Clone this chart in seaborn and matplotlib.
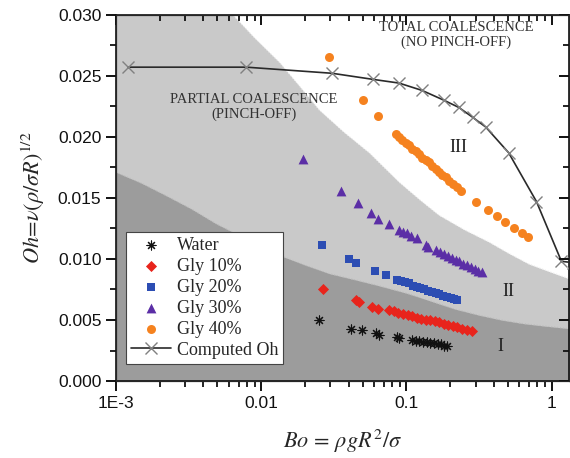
import numpy as np
import pandas as pd
import matplotlib
matplotlib.use("Agg")
import matplotlib.pyplot as plt
import seaborn as sns
from matplotlib.ticker import NullFormatter, MultipleLocator, FixedLocator, FixedFormatter, LogLocator

# data
water_x = [0.0251, 0.0417, 0.0495, 0.0620, 0.0650, 0.0860, 0.0890, 0.109, 0.116, 0.123,
           0.130, 0.138, 0.146, 0.155, 0.164, 0.174, 0.181, 0.190]
water_y = [0.0050, 0.0043, 0.0042, 0.0039, 0.0038, 0.0036, 0.0035, 0.0034, 0.0033, 0.0033,
           0.0032, 0.0032, 0.0031, 0.0031, 0.0030, 0.0030, 0.0029, 0.0029]

gly10_x = [0.0268, 0.0451, 0.0473, 0.0581, 0.0638, 0.076, 0.082, 0.088, 0.095, 0.102, 0.110,
           0.118, 0.127, 0.136, 0.146, 0.157, 0.169, 0.181, 0.195, 0.209, 0.225, 0.242, 0.261, 0.282]
gly10_y = [0.0075, 0.0066, 0.0065, 0.0061, 0.0059, 0.0058, 0.0057, 0.0056, 0.0055, 0.0054, 0.0053,
           0.0052, 0.0051, 0.0050, 0.0050, 0.0049, 0.0048, 0.0047, 0.0046, 0.0045, 0.0044, 0.0043, 0.0042, 0.0041]

gly20_x = [0.0264, 0.0403, 0.0451, 0.0610, 0.0724, 0.0863, 0.092, 0.098, 0.104, 0.111, 0.118,
           0.125, 0.133, 0.141, 0.150, 0.159, 0.169, 0.179, 0.190, 0.202, 0.212, 0.222]
gly20_y = [0.0111, 0.0100, 0.0097, 0.0090, 0.0087, 0.0083, 0.0082, 0.0081, 0.0080, 0.0078, 0.0077,
           0.0076, 0.0075, 0.0074, 0.0073, 0.0072, 0.0071, 0.0070, 0.0069, 0.0068, 0.0067, 0.0066]

gly30_x = [0.0195, 0.0356, 0.0466, 0.0571, 0.0638, 0.0760, 0.0889, 0.095, 0.101, 0.108, 0.118,
           0.136, 0.142, 0.160, 0.170, 0.181, 0.193, 0.205, 0.218, 0.232, 0.247, 0.262, 0.278,
           0.295, 0.312, 0.330]
gly30_y = [0.0182, 0.0156, 0.0146, 0.0138, 0.0133, 0.0129, 0.0124, 0.0122, 0.0121, 0.0119, 0.0117,
           0.0111, 0.0110, 0.0107, 0.0106, 0.0104, 0.0102, 0.0101, 0.0099, 0.0098, 0.0096, 0.0095,
           0.0093, 0.0092, 0.0090, 0.0089]

gly40_x = [0.0294, 0.0504, 0.0638, 0.0849, 0.089, 0.094, 0.099, 0.104, 0.110, 0.116, 0.122,
           0.129, 0.136, 0.143, 0.151, 0.159, 0.168, 0.177, 0.187, 0.198, 0.210, 0.223, 0.237,
           0.301, 0.363, 0.419, 0.475, 0.548, 0.621, 0.684]
gly40_y = [0.0265, 0.0230, 0.0217, 0.0202, 0.0200, 0.0197, 0.0195, 0.0193, 0.0190, 0.0188, 0.0186,
           0.0183, 0.0181, 0.0179, 0.0176, 0.0174, 0.0171, 0.0169, 0.0167, 0.0164, 0.0161, 0.0159, 0.0156,
           0.0147, 0.0140, 0.0135, 0.0130, 0.0125, 0.0121, 0.0118]

oh_x = [0.00121, 0.00792, 0.0308, 0.0590, 0.0889, 0.128, 0.181, 0.230, 0.286, 0.352, 0.506, 0.787, 1.17, 1.40]
oh_y = [0.0257, 0.0257, 0.0252, 0.0247, 0.0244, 0.0238, 0.0230, 0.0224, 0.0216, 0.0208, 0.0187, 0.0147, 0.0098, 0.0097]

# regime boundaries (I / II and II / III)
bnd1_x = [0.001, 0.0015, 0.0022, 0.0033, 0.00486, 0.0080, 0.01336, 0.0200, 0.0294, 0.0440,
          0.0649, 0.100, 0.143, 0.215, 0.315, 0.450, 0.641, 0.900, 1.31]
bnd1_y = [0.0171, 0.0162, 0.0152, 0.0141, 0.0129, 0.0116, 0.0103, 0.0095, 0.0088, 0.0083,
          0.0078, 0.0072, 0.0066, 0.0059, 0.0054, 0.0050, 0.0047, 0.0045, 0.0043]
bnd2_x = [0.001, 0.0058, 0.00625, 0.0090, 0.01336, 0.0185, 0.0251, 0.0370, 0.0554, 0.0889,
          0.125, 0.167, 0.250, 0.369, 0.500, 0.694, 1.00, 1.31]
bnd2_y = [0.032, 0.032, 0.0301, 0.0281, 0.0261, 0.0241, 0.0222, 0.0204, 0.0187, 0.0163,
          0.0148, 0.0136, 0.0124, 0.0114, 0.0105, 0.0096, 0.0089, 0.0084]

sns.set_style("ticks")
plt.rcParams['font.family'] = ['Liberation Sans', 'DejaVu Sans']
plt.rcParams['mathtext.fontset'] = 'stix'

fig = plt.figure(figsize=(5.7, 4.58), dpi=100)
ax = fig.add_axes([0.2035, 0.168, 0.794, 0.8])
ax.set_xscale('log')
ax.set_xlim(1e-3, 1.31)
ax.set_ylim(0, 0.030)

ax.set_facecolor('white')
ax.fill_between(bnd2_x, bnd2_y, 0, color='#c9c9c9', lw=0, zorder=0)
ax.fill_between(bnd1_x, bnd1_y, 0, color='#9c9c9c', lw=0, zorder=0.5)
ax.plot(bnd2_x[2:], bnd2_y[2:], ls=':', color='#eeeeee', lw=0.8, zorder=0.6)
ax.plot(bnd1_x, bnd1_y, ls=':', color='#bbbbbb', lw=0.8, zorder=0.6)

sns.scatterplot(x=water_x, y=water_y, ax=ax, marker=(8, 2, 0), color='#111111', s=42,
                linewidth=0.8, label='Water', zorder=3)
sns.scatterplot(x=gly10_x, y=gly10_y, ax=ax, marker='D', color='#e8241c', s=32,
                linewidth=0, label='Gly 10%', zorder=3)
sns.scatterplot(x=gly20_x, y=gly20_y, ax=ax, marker='s', color='#2c4db3', s=36,
                linewidth=0, label='Gly 20%', zorder=3)
sns.scatterplot(x=gly30_x, y=gly30_y, ax=ax, marker='^', color='#5b2ea6', s=50,
                linewidth=0, label='Gly 30%', zorder=3)
sns.scatterplot(x=gly40_x, y=gly40_y, ax=ax, marker='o', color='#f5821f', s=42,
                linewidth=0, label='Gly 40%', zorder=3)
sns.lineplot(x=oh_x, y=oh_y, ax=ax, sort=False, color='#2a2a2a', lw=1.2, marker='x',
             markersize=8, markeredgecolor='#808080', markeredgewidth=1.0,
             label='Computed Oh', zorder=4)

# axes ticks
ax.xaxis.set_major_locator(FixedLocator([1e-3, 1e-2, 1e-1, 1]))
ax.xaxis.set_major_formatter(FixedFormatter(['1E-3', '0.01', '0.1', '1']))
ax.xaxis.set_minor_locator(LogLocator(base=10, subs=np.arange(2, 10)))
ax.xaxis.set_minor_formatter(NullFormatter())
ax.yaxis.set_major_locator(MultipleLocator(0.005))
ax.yaxis.set_minor_locator(MultipleLocator(0.0025))
ax.yaxis.set_major_formatter(matplotlib.ticker.FormatStrFormatter('%.3f'))
ax.tick_params(which='major', direction='out', length=7, width=1.4, labelsize=12.5, colors='#111111')
ax.tick_params(which='minor', direction='out', length=4, width=1.3, colors='#111111')
for s in ax.spines.values():
    s.set_linewidth(1.2)
    s.set_color('#111111')

# mirrored ticks on top / right, pointing inside
top = ax.twiny()
top.set_xscale('log')
top.set_xlim(ax.get_xlim())
top.tick_params(axis='x', which='both', top=True, bottom=False, labeltop=False,
                labelbottom=False, direction='in', colors='#111111')
top.tick_params(axis='x', which='major', length=7, width=1.4)
top.tick_params(axis='x', which='minor', length=4, width=1.3)
right = ax.twinx()
right.set_ylim(ax.get_ylim())
right.yaxis.set_major_locator(MultipleLocator(0.005))
right.yaxis.set_minor_locator(MultipleLocator(0.0025))
right.tick_params(axis='y', which='both', right=True, left=False, labelright=False,
                  labelleft=False, direction='in', colors='#111111')
right.tick_params(axis='y', which='major', length=7, width=1.4)
right.tick_params(axis='y', which='minor', length=4, width=1.3)

ax.set_xlabel(r'$Bo\,=\,\rho g R^{2}/\sigma$', fontsize=16, labelpad=12)
ax.set_ylabel(r'$Oh\!=\!\nu(\rho/\sigma R)^{1/2}$', fontsize=16, labelpad=8)

serif = ['Liberation Serif', 'DejaVu Serif']
ax.text(0.221, 0.0283, 'TOTAL COALESCENCE\n(NO PINCH-OFF)', family=serif, fontsize=10.5,
        ha='center', va='center', color='#333333', linespacing=1.15)
ax.text(0.00893, 0.0224, 'PARTIAL COALESCENCE\n(PINCH-OFF)', family=serif, fontsize=10.5,
        ha='center', va='center', color='#333333', linespacing=1.15)
ax.text(0.230, 0.0191, 'III', family=serif, fontsize=13, ha='center', va='center', color='#222222')
ax.text(0.506, 0.0073, 'II', family=serif, fontsize=13, ha='center', va='center', color='#222222')
ax.text(0.446, 0.0028, 'I', family=serif, fontsize=13, ha='center', va='center', color='#222222')

leg = ax.legend(loc='lower left', bbox_to_anchor=(0.022, 0.046), borderaxespad=0,
                prop={'family': serif, 'size': 13}, frameon=True, fancybox=False,
                edgecolor='#444444', framealpha=1, labelspacing=0.22, handlelength=2.2,
                handletextpad=0.3, borderpad=0.3, scatterpoints=1)
leg.get_frame().set_linewidth(0.8)
leg.set_zorder(10)

plt.savefig('out.png', dpi=100)
